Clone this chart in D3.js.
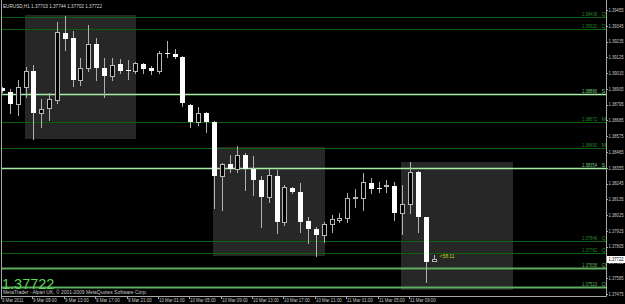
<!DOCTYPE html>
<html>
<head>
<meta charset="utf-8">
<script src="https://cdn.jsdelivr.net/npm/d3@7"></script>
<style>
  html, body { margin: 0; padding: 0; background: #000; }
  text { font-family: "Liberation Sans", Arial, sans-serif; }
</style>
</head>
<body>
<div id="vis"></div>
<script>
const width = 625;
const height = 304;

// EURUSD H1 bars, 9 Mar 2011 05:00 -> 11 Mar 2011 12:00
const firstBar = "2011-03-09T05:00:00Z";
const opens = [1.38911,1.38883,1.38800,1.38918,1.39030,1.38737,1.38772,1.38828,1.39295,1.39260,
  1.38967,1.39051,1.39218,1.39051,1.38995,1.39079,1.39037,1.39030,1.39079,1.39051,
  1.39030,1.39155,1.39148,1.39127,1.38793,1.38674,1.38737,1.38674,1.38298,1.38381,
  1.38346,1.38444,1.38346,1.38270,1.38151,1.38298,1.37977,1.38214,1.38186,1.37984,
  1.37928,1.37886,1.37963,1.37991,1.38005,1.38144,1.38144,1.38249,1.38214,1.38235,
  1.38228,1.38040,1.38102,1.38326,1.38012,1.37703];
const highs = [1.38918,1.38904,1.38967,1.39058,1.39072,1.38835,1.38876,1.39371,1.39413,1.39309,
  1.39120,1.39350,1.39260,1.39120,1.39120,1.39113,1.39106,1.39092,1.39085,1.39065,
  1.39169,1.39239,1.39183,1.39134,1.38800,1.38779,1.38744,1.38681,1.38388,1.38444,
  1.38507,1.38458,1.38437,1.38298,1.38346,1.38339,1.38235,1.38221,1.38249,1.38012,
  1.37942,1.37977,1.38026,1.38040,1.38179,1.38207,1.38319,1.38284,1.38256,1.38270,
  1.38256,1.38235,1.38395,1.38330,1.38015,1.37744];
const lows = [1.38883,1.38737,1.38723,1.38848,1.38556,1.38639,1.38688,1.38807,1.39176,1.38925,
  1.38932,1.39030,1.38967,1.38848,1.38967,1.39016,1.38974,1.39016,1.39016,1.39009,
  1.39016,1.39127,1.39120,1.38786,1.38639,1.38653,1.38604,1.38075,1.38061,1.38326,
  1.38326,1.38200,1.38165,1.37942,1.38116,1.37900,1.37956,1.38179,1.37907,1.37831,
  1.37740,1.37838,1.37907,1.37977,1.37977,1.38082,1.38061,1.38179,1.38186,1.38186,
  1.37991,1.37893,1.38040,1.37907,1.37559,1.37702];
const closes = [1.38890,1.38800,1.38918,1.39030,1.38737,1.38765,1.38835,1.39302,1.39253,1.38967,
  1.39051,1.39218,1.39051,1.38995,1.39072,1.39030,1.39036,1.39085,1.39044,1.39030,
  1.39155,1.39148,1.39127,1.38807,1.38674,1.38737,1.38674,1.38298,1.38381,1.38346,
  1.38444,1.38346,1.38270,1.38151,1.38305,1.37977,1.38221,1.38186,1.37977,1.37928,
  1.37886,1.37963,1.37998,1.38005,1.38144,1.38151,1.38256,1.38207,1.38207,1.38235,
  1.38040,1.38102,1.38326,1.38012,1.37698,1.37722];

// session boxes 08:00 - 22:00
const boxStart = ["2011-03-09T08:00:00Z", "2011-03-10T08:00:00Z", "2011-03-11T08:00:00Z"];
const boxEnd   = ["2011-03-09T22:00:00Z", "2011-03-10T22:00:00Z", "2011-03-11T22:00:00Z"];
const boxHigh  = [1.39420, 1.38500, 1.38395];
const boxLow   = [1.38556, 1.37740, 1.37503];

// horizontal levels
const levels    = [1.39408, 1.39322, 1.38866, 1.38672, 1.38490, 1.38354, 1.37846, 1.37762, 1.37658, 1.37523];
const levelTags = ["Q", "Q", "S", "M", "M", "S", "Q", "Q", "Q", "Q"];

// axes
const priceTicks = [1.39455,1.39345,1.39235,1.39125,1.39015,1.38905,1.38795,1.38685,1.38575,1.38465,
  1.38355,1.38245,1.38135,1.38025,1.37915,1.37805,1.37695,1.37585,1.37475];
const timeTicks = ["2011-03-09T05:00:00Z","2011-03-09T09:00:00Z","2011-03-09T13:00:00Z","2011-03-09T17:00:00Z",
  "2011-03-09T21:00:00Z","2011-03-10T01:00:00Z","2011-03-10T05:00:00Z","2011-03-10T09:00:00Z",
  "2011-03-10T13:00:00Z","2011-03-10T17:00:00Z","2011-03-10T21:00:00Z","2011-03-11T01:00:00Z",
  "2011-03-11T05:00:00Z","2011-03-11T09:00:00Z"];
const timeLabels = ["9 Mar 2011","9 Mar 09:00","9 Mar 13:00","9 Mar 17:00","9 Mar 21:00","10 Mar 01:00",
  "10 Mar 05:00","10 Mar 09:00","10 Mar 13:00","10 Mar 17:00","10 Mar 21:00","11 Mar 01:00",
  "11 Mar 05:00","11 Mar 09:00"];

const symbolTitle = "EURUSD,H1";
const lastPrice = 1.37722;
const countdown = "<58:11";
const copyright = "MetaTrader - Alpari UK, \u00a9 2001-2009 MetaQuotes Software Corp.";

// ---- build bars
const t0 = new Date(firstBar);
const bars = opens.map((o, i) => ({
  t: d3.utcHour.offset(t0, i),
  o: o, h: highs[i], l: lows[i], c: closes[i]
}));

const svg = d3.select("#vis").append("svg")
  .attr("width", width)
  .attr("height", height)
  .style("display", "block");

svg.append("rect").attr("width", width).attr("height", height).attr("fill", "#000");

const plotRight = 606;
const plotBottom = 296;

const x = d3.scaleUtc()
  .domain([t0, bars[bars.length - 1].t])
  .range([2, 433.5]);

const y = d3.scaleLinear()
  .domain([1.37475, 1.39455])
  .range([294, 10]);

svg.append("defs").append("clipPath").attr("id", "plot")
  .append("rect").attr("x", 2).attr("y", 0).attr("width", plotRight - 2).attr("height", plotBottom);

const plot = svg.append("g").attr("clip-path", "url(#plot)");

// session boxes
plot.selectAll(".box")
  .data(boxStart)
  .enter().append("rect")
  .attr("class", "box")
  .attr("x", d => Math.round(x(new Date(d))) - 1)
  .attr("y", (d, i) => Math.round(y(boxHigh[i])))
  .attr("width", (d, i) => Math.round(x(new Date(boxEnd[i]))) - Math.round(x(new Date(d))) + 2)
  .attr("height", (d, i) => Math.round(y(boxLow[i])) - Math.round(y(boxHigh[i])))
  .attr("fill", "#272727");

// levels
const levelColor = (v, i) => levelTags[i] === "S" ? "#a6eea6" : (v < 1.3770 ? "#5fae5f" : "#0b620b");
const levelWidth = (v, i) => levelTags[i] === "S" ? 1.5 : (v < 1.3770 ? 2 : 1);
const labelColor = (v, i) => levelTags[i] === "S" ? "#74c874" : (v < 1.3770 ? "#5fae5f" : "#2a8a2a");

plot.selectAll(".level")
  .data(levels)
  .enter().append("line")
  .attr("x1", 2).attr("x2", plotRight)
  .attr("y1", d => Math.round(y(d)) + 0.5)
  .attr("y2", d => Math.round(y(d)) + 0.5)
  .attr("stroke", levelColor)
  .attr("stroke-width", levelWidth);

plot.selectAll(".lvl-label")
  .data(levels)
  .enter().append("text")
  .attr("x", 597)
  .attr("y", d => Math.round(y(d)) - 1)
  .attr("text-anchor", "end")
  .attr("font-size", 5.5)
  .attr("textLength", 15)
  .attr("lengthAdjust", "spacingAndGlyphs")
  .attr("fill", labelColor)
  .text(d => d.toFixed(5));

plot.selectAll(".lvl-tag")
  .data(levels)
  .enter().append("text")
  .attr("x", 601.5)
  .attr("y", d => Math.round(y(d)) - 1)
  .attr("font-size", 5.5)
  .attr("fill", labelColor)
  .text((d, i) => levelTags[i]);

// candles
const candles = plot.selectAll(".candle")
  .data(bars)
  .enter().append("g")
  .attr("class", "candle");

candles.append("line")
  .attr("x1", d => Math.round(x(d.t)) + 0.5)
  .attr("x2", d => Math.round(x(d.t)) + 0.5)
  .attr("y1", d => Math.round(y(d.h)))
  .attr("y2", d => Math.round(y(d.l)) + 1)
  .attr("stroke", "#b0b0b0")
  .attr("stroke-width", 1);

candles.append("rect")
  .attr("x", d => d.c >= d.o ? Math.round(x(d.t)) - 1.5 : Math.round(x(d.t)) - 2)
  .attr("y", d => {
    const top = Math.round(y(Math.max(d.o, d.c)));
    return d.c >= d.o ? top + 0.5 : top;
  })
  .attr("width", d => d.c >= d.o ? 4 : 5)
  .attr("height", d => Math.max(1, Math.round(y(Math.min(d.o, d.c))) - Math.round(y(Math.max(d.o, d.c)))))
  .attr("fill", d => d.c >= d.o ? "#000" : "#fff")
  .attr("stroke", d => d.c >= d.o ? "#b8b8b8" : "none")
  .attr("stroke-width", 1);

// countdown
plot.append("text")
  .attr("x", x(bars[bars.length - 1].t) + 6)
  .attr("y", y(lastPrice) - 1)
  .attr("font-size", 5.5)
  .attr("textLength", 15)
  .attr("lengthAdjust", "spacingAndGlyphs")
  .attr("fill", "#c3cc1a")
  .text(countdown);

// big price
svg.append("text")
  .attr("x", 2)
  .attr("y", 289)
  .attr("font-size", 14.5)
  .attr("fill", "#58d858")
  .text(lastPrice.toFixed(5));

// header
svg.append("text")
  .attr("x", 3)
  .attr("y", 7.5)
  .attr("font-size", 5.5)
  .attr("textLength", 99)
  .attr("lengthAdjust", "spacingAndGlyphs")
  .attr("fill", "#d8d8d8")
  .text(`${symbolTitle} ${opens[opens.length - 1].toFixed(5)} ${highs[highs.length - 1].toFixed(5)} ${lows[lows.length - 1].toFixed(5)} ${closes[closes.length - 1].toFixed(5)}`);

// copyright
svg.append("text")
  .attr("x", 3)
  .attr("y", 294)
  .attr("font-size", 5)
  .attr("textLength", 144)
  .attr("lengthAdjust", "spacingAndGlyphs")
  .attr("fill", "#c8c8c8")
  .text(copyright);

// frame
svg.append("path")
  .attr("d", `M1.5,0 V${plotBottom + 0.5} H${plotRight + 0.5} V0`)
  .attr("fill", "none")
  .attr("stroke", "#a8a8a8")
  .attr("stroke-width", 1);

// price axis
const priceAxis = svg.append("g");
priceAxis.selectAll("line")
  .data(priceTicks)
  .enter().append("line")
  .attr("x1", plotRight).attr("x2", plotRight + 2)
  .attr("y1", d => Math.round(y(d)) + 0.5)
  .attr("y2", d => Math.round(y(d)) + 0.5)
  .attr("stroke", "#a8a8a8");
priceAxis.selectAll("text")
  .data(priceTicks)
  .enter().append("text")
  .attr("x", 608.5)
  .attr("y", d => y(d) + 1.8)
  .attr("font-size", 5)
  .attr("textLength", 15)
  .attr("lengthAdjust", "spacingAndGlyphs")
  .attr("fill", "#c8c8c8")
  .text(d => d.toFixed(5));

// current price tag
svg.append("rect")
  .attr("x", 607).attr("y", Math.round(y(lastPrice)) - 3)
  .attr("width", 18).attr("height", 7)
  .attr("fill", "#fff");
svg.append("text")
  .attr("x", 608.5)
  .attr("y", y(lastPrice) + 2)
  .attr("font-size", 5)
  .attr("textLength", 15)
  .attr("lengthAdjust", "spacingAndGlyphs")
  .attr("fill", "#000")
  .text(lastPrice.toFixed(5));

// time axis
const timeAxis = svg.append("g");
timeAxis.selectAll("line")
  .data(timeTicks)
  .enter().append("line")
  .attr("x1", d => Math.round(x(new Date(d))) - 0.5)
  .attr("x2", d => Math.round(x(new Date(d))) - 0.5)
  .attr("y1", plotBottom).attr("y2", plotBottom + 3)
  .attr("stroke", "#a8a8a8");
timeAxis.selectAll("text")
  .data(timeTicks)
  .enter().append("text")
  .attr("x", d => Math.max(2, Math.round(x(new Date(d)))))
  .attr("y", 302)
  .attr("font-size", 5)
  .attr("textLength", (d, i) => timeLabels[i].length * 2.15)
  .attr("lengthAdjust", "spacingAndGlyphs")
  .attr("fill", "#c8c8c8")
  .text((d, i) => timeLabels[i]);
</script>
</body>
</html>
